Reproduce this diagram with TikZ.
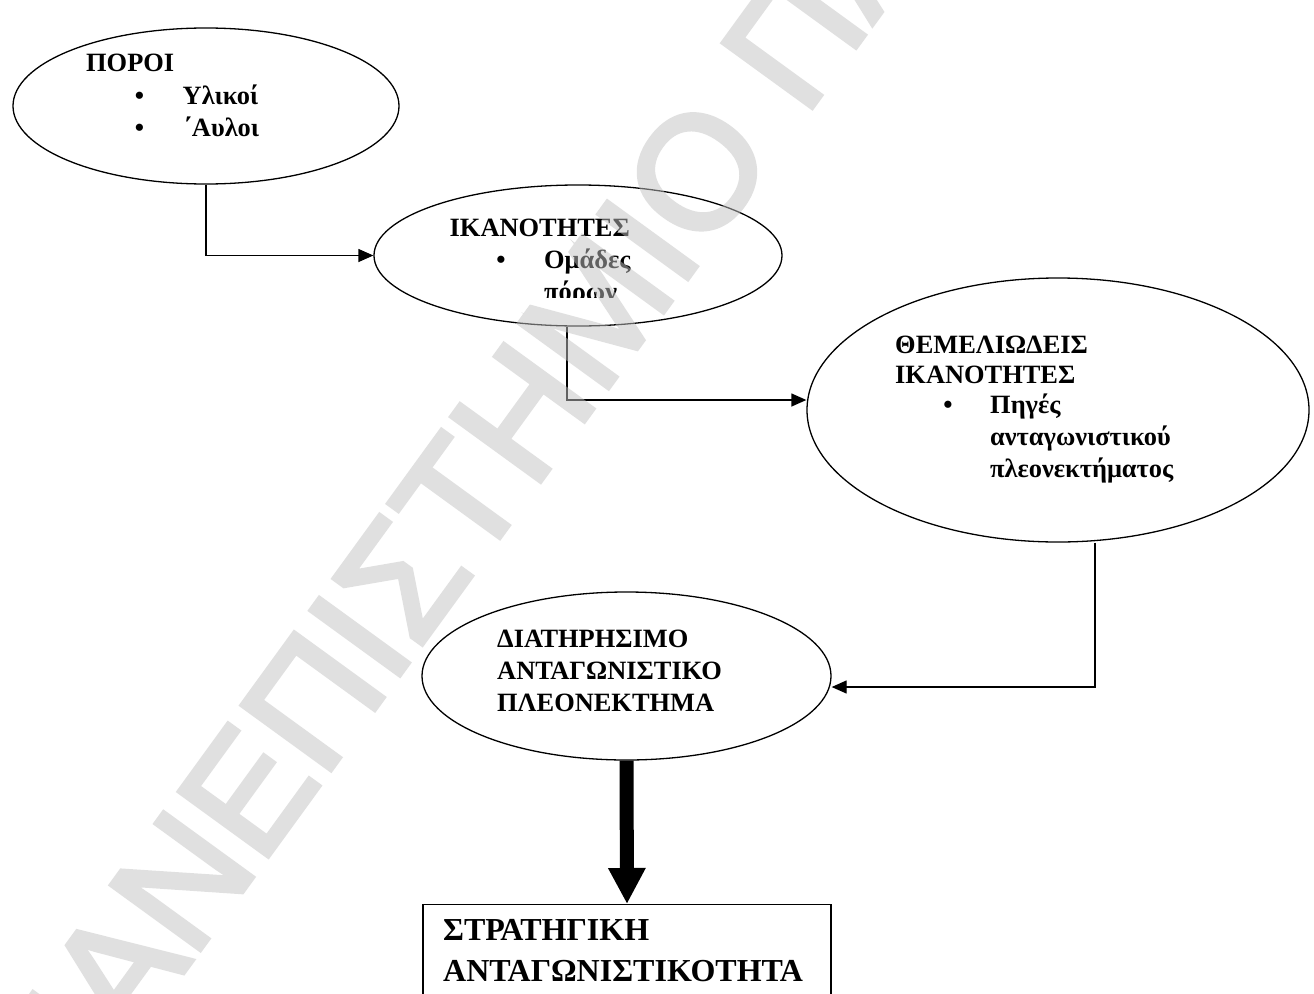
\documentclass[tikz,border=0pt]{standalone}
\usepackage{fontspec}
\setmainfont{Liberation Serif}
\newfontfamily\wmfont[FakeBold=3]{Liberation Sans}
\usetikzlibrary{shapes.geometric,arrows.meta}
\begin{document}
\begin{tikzpicture}[x=1pt,y=-1pt,
  oval/.style={draw, ellipse, line width=1.3pt, inner sep=0pt},
  conn/.style={draw, line width=1.3pt, -{Triangle[length=15pt,width=13pt]}},
  lbl/.style={anchor=base west, inner sep=0pt, font=\fontsize{26.4}{30}\selectfont\bfseries},
  blt/.style={anchor=base, inner sep=0pt, font=\fontsize{26.4}{30}\selectfont\bfseries},
  bigl/.style={anchor=base west, inner sep=0pt, font=\fontsize{32}{36}\selectfont\bfseries},
  wmark/.style={rotate=54, anchor=base west, inner sep=0pt, text=black!24, font=\wmfont\fontsize{160}{160}\selectfont},
]
\useasboundingbox (0,0) rectangle (1314,993);
\clip (0,0) rectangle (1314,993);
\fill[white] (0,0) rectangle (1314,993);
% shapes
\node[oval, minimum width=386pt, minimum height=156pt] (e1) at (206,106) {};
\node[oval, minimum width=408pt, minimum height=141pt] (e2) at (578,255.5) {};
\node[oval, minimum width=502pt, minimum height=264pt] (e3) at (1058,410) {};
\node[oval, minimum width=409pt, minimum height=168pt] (e4) at (626.5,676) {};
\node[draw, line width=1.3pt, minimum width=408pt, minimum height=150pt, anchor=north] (bx) at (627,904) {};
% texts ellipse 1
\node[lbl] (t1a) at (86,71.6) {ΠΟΡΟΙ};
\node[blt] (b1a) at (139.5,104.5) {•};
\node[lbl] (t1b) at (182.5,104.5) {Υλικοί};
\node[blt] (b1b) at (139.5,136) {•};
\node[lbl] (t1c) at (183,136) {΄Αυλοι};
% ellipse 2
\node[lbl] (t2a) at (449.5,236) {ΙΚΑΝΟΤΗΤΕΣ};
\node[blt] (b2a) at (501,268) {•};
\node[lbl] (t2b) at (544,268) {Ομάδες};
\begin{scope}
\clip (440,270) rectangle (700,297);
\node[lbl] (t2c) at (544,300) {πόρων};
\end{scope}
% ellipse 3
\node[lbl] (t3a) at (895,353) {ΘΕΜΕΛΙΩΔΕΙΣ};
\node[lbl] (t3b) at (895,383) {ΙΚΑΝΟΤΗΤΕΣ};
\node[blt] (b3a) at (948,413) {•};
\node[lbl] (t3c) at (990,413) {Πηγές};
\node[lbl] (t3d) at (990,445) {ανταγωνιστικού};
\node[lbl] (t3e) at (990,477) {πλεονεκτήματος};
% ellipse 4
\node[lbl] (t4a) at (497,647) {ΔΙΑΤΗΡΗΣΙΜΟ};
\node[lbl] (t4b) at (497,679) {ΑΝΤΑΓΩΝΙΣΤΙΚΟ};
\node[lbl] (t4c) at (497,711) {ΠΛΕΟΝΕΚΤΗΜΑ};
% box
\node[bigl] (t5a) at (443,940) {ΣΤΡΑΤΗΓΙΚΗ};
\node[bigl] (t5b) at (443,981) {ΑΝΤΑΓΩΝΙΣΤΙΚΟΤΗΤΑ};
% connectors
\draw[conn] (e1.south) |- (e2.west);
\coordinate (k2) at (567,400);
\draw[conn] (e2.south -| k2) |- (e3.west |- k2);
\coordinate (k3) at (1095,687);
\draw[conn] (e3.south -| k3) |- (e4.east |- k3);
\draw[line width=14pt, -{Triangle[length=36pt,width=35pt]}] (e4.south) -- (bx.north);
% watermark
\begin{scope}[transparency group, opacity=0.5]
\node[wmark] (wm) at (61.8,1140.2) {ΠΑΝΕΠΙΣΤΗΜΙΟ ΠΑΤΡΩΝ};
\end{scope}
\end{tikzpicture}
\end{document}
